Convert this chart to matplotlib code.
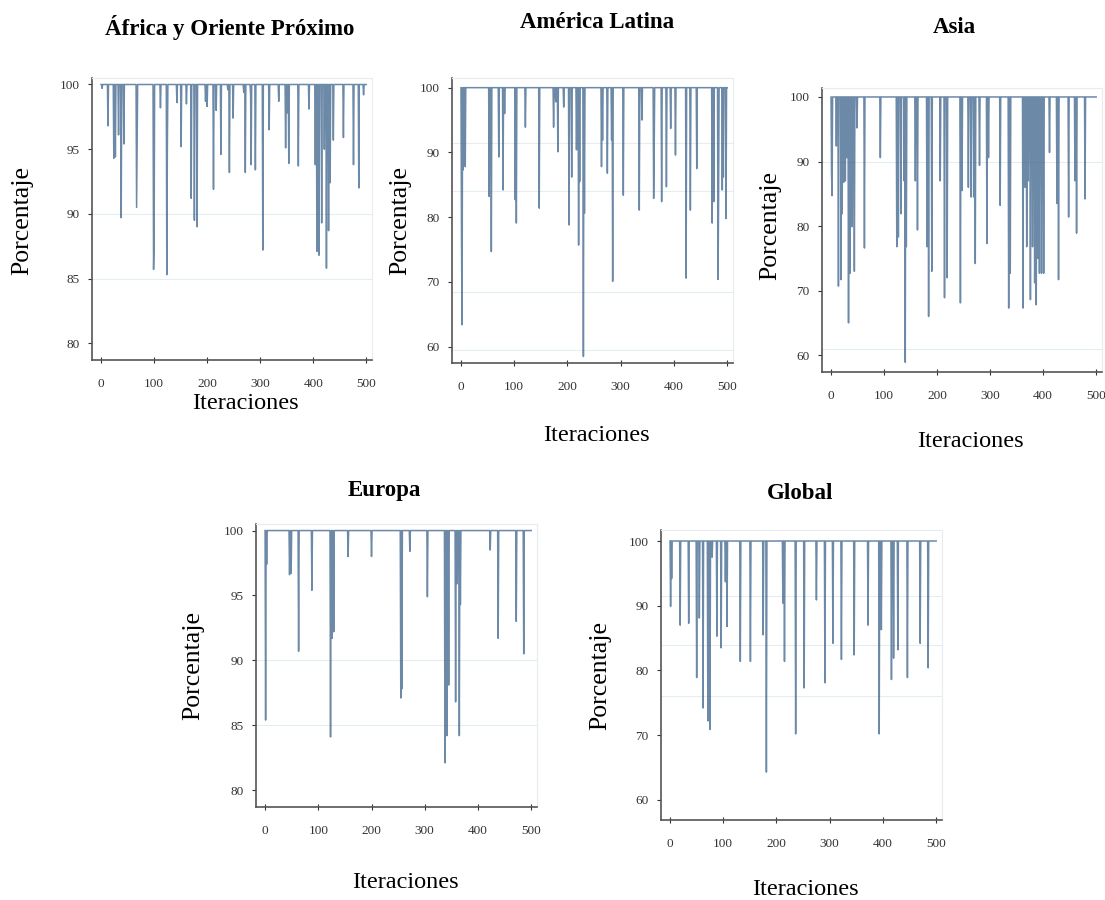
import numpy as np
import matplotlib
matplotlib.use("Agg")
import matplotlib.pyplot as plt

plt.rcParams['font.family'] = ['Liberation Serif', 'DejaVu Serif']

n_iter = 501

# dips below 100 %: (iteration, value)
af_iter = [2, 13, 24, 27, 33, 38, 43, 67, 68, 99, 100, 112, 124, 125, 143, 151, 161, 170, 176, 181,
           197, 200, 212, 217, 226, 239, 242, 249, 269, 272, 282, 283, 291, 305, 317, 335, 348, 351,
           354, 372, 392, 404, 407, 411, 416, 421, 425, 429, 432, 438, 457, 476, 486, 495]
af_val = [99.7, 96.8, 94.3, 94.4, 96.1, 89.7, 95.4, 90.5, 95.0, 85.7, 87.6, 98.2, 85.3, 95.0, 98.6,
          95.2, 98.5, 91.2, 89.5, 89.0, 98.7, 98.3, 91.9, 98.0, 94.6, 99.6, 93.2, 97.4, 99.4, 93.2,
          99.2, 93.8, 93.4, 87.2, 96.5, 98.7, 95.1, 97.8, 93.9, 93.7, 98.1, 93.8, 87.1, 86.8, 89.3,
          95.0, 85.8, 88.7, 92.4, 95.7, 95.9, 93.8, 92.0, 99.2]

la_iter = [1, 2, 4, 8, 53, 57, 71, 79, 82, 102, 104, 121, 147, 174, 178, 182, 193, 203, 208, 217,
           221, 223, 230, 232, 264, 266, 275, 283, 285, 305, 335, 340, 362, 363, 377, 386, 394, 403,
           423, 431, 443, 472, 475, 483, 484, 491, 493, 498]
la_val = [76.2, 63.4, 87.3, 87.8, 83.2, 74.7, 89.3, 84.2, 96.0, 82.7, 79.1, 93.9, 81.4, 93.9, 97.8,
          90.1, 97.0, 78.8, 86.2, 90.4, 75.7, 85.5, 58.5, 80.6, 87.8, 91.9, 86.8, 91.9, 70.1, 83.4,
          81.1, 95.0, 82.9, 90.4, 82.4, 84.7, 93.7, 89.6, 70.6, 81.1, 87.5, 79.1, 82.4, 70.4, 82.7,
          84.2, 86.2, 79.8]

as_iter = [1, 2, 10, 14, 19, 21, 24, 27, 30, 33, 36, 40, 44, 49, 63, 93, 124, 127, 132, 138, 140,
           142, 159, 163, 181, 184, 190, 206, 214, 219, 244, 247, 259, 264, 269, 272, 280, 294, 297,
           319, 335, 338, 362, 366, 369, 372, 376, 380, 384, 387, 390, 393, 397, 401, 412, 426, 429,
           448, 460, 463, 479]
as_val = [88.1, 84.7, 92.4, 70.7, 71.7, 81.9, 86.8, 87.0, 90.6, 65.0, 72.7, 79.9, 73.0, 95.2, 76.6,
          90.6, 76.8, 78.3, 81.9, 87.0, 58.9, 76.8, 87.0, 79.4, 76.8, 66.0, 73.0, 87.0, 68.9, 72.0,
          68.1, 85.5, 86.0, 84.5, 84.5, 74.2, 89.4, 77.3, 90.6, 83.2, 67.3, 72.7, 67.3, 86.0, 76.8,
          87.0, 68.6, 76.8, 71.2, 67.8, 75.0, 72.7, 72.7, 72.7, 91.4, 83.5, 71.7, 81.4, 87.0, 78.9,
          84.2]

eu_iter = [1, 3, 46, 49, 63, 88, 123, 126, 129, 156, 200, 255, 257, 272, 305, 338, 342, 345, 358,
           361, 365, 367, 423, 438, 472, 486]
eu_val = [85.4, 97.4, 96.6, 96.7, 90.7, 95.4, 84.1, 91.7, 92.2, 98.0, 98.0, 87.1, 87.8, 98.4, 94.9,
          82.1, 84.2, 88.1, 86.8, 95.9, 84.2, 94.3, 98.5, 91.7, 93.0, 90.5]

gl_iter = [1, 3, 19, 35, 50, 55, 62, 71, 75, 79, 88, 96, 104, 107, 132, 151, 175, 181, 212, 215,
           236, 252, 275, 291, 306, 322, 346, 372, 393, 397, 416, 420, 428, 446, 470, 485]
gl_val = [89.9, 94.2, 87.0, 87.3, 78.9, 88.1, 74.2, 72.2, 70.9, 97.5, 85.3, 83.5, 93.7, 86.8, 81.4,
          81.4, 85.5, 64.3, 90.4, 81.4, 70.2, 77.3, 90.9, 78.1, 84.2, 81.7, 82.4, 87.0, 70.2, 86.3,
          78.6, 81.9, 83.2, 78.9, 84.2, 80.4]

titles = ['África y Oriente Próximo', 'América Latina', 'Asia', 'Europa', 'Global']
y_ticks = [[80, 85, 90, 95, 100], [60, 70, 80, 90, 100], [60, 70, 80, 90, 100],
           [80, 85, 90, 95, 100], [60, 70, 80, 90, 100]]
x_ticks = [0, 100, 200, 300, 400, 500]


def build_series(dip_iter, dip_val):
    series = np.full(n_iter, 100.0)
    series[np.array(dip_iter)] = dip_val
    return series


panels = [
    # (data, axes rect, ylim, faint grid levels, title xy, xlabel xy, ylabel xy)
    ((af_iter, af_val), [0.0833, 0.600, 0.2534, 0.3133], (78.7, 100.5), [90, 85],
     (0.208, 0.969), (0.222, 0.552), (0.020, 0.755)),
    ((la_iter, la_val), [0.4090, 0.5967, 0.2543, 0.3167], (57.5, 101.5), [91.5, 84, 68.5, 59.5],
     (0.540, 0.975), (0.540, 0.516), (0.362, 0.755)),
    ((as_iter, as_val), [0.7439, 0.5867, 0.2534, 0.3156], (57.4, 101.4), [90, 61],
     (0.864, 0.969), (0.878, 0.509), (0.697, 0.750)),
    ((eu_iter, eu_val), [0.2317, 0.1033, 0.2543, 0.3144], (78.7, 100.5), [90, 85],
     (0.348, 0.455), (0.367, 0.019), (0.175, 0.261)),
    ((gl_iter, gl_val), [0.5982, 0.0889, 0.2543, 0.3222], (56.9, 101.7), [91.5, 84, 76],
     (0.724, 0.452), (0.729, 0.012), (0.543, 0.250)),
]

fig = plt.figure(figsize=(11.05, 9.0), dpi=100)
x = np.arange(n_iter)

for k, (data, rect, ylim, grid, t_xy, xl_xy, yl_xy) in enumerate(panels):
    ax = fig.add_axes(rect)
    y = build_series(*data)
    for g in grid:
        ax.axhline(g, color='#e4eef0', lw=0.8, zorder=0)
    ax.plot(x, y, color='#2e5782', lw=1.1, alpha=0.7)
    ax.set_xlim(-17, 511)
    ax.set_ylim(*ylim)
    ax.set_xticks(x_ticks)
    ax.set_yticks(y_ticks[k])
    ax.tick_params(axis='x', direction='inout', length=4, width=0.8, pad=11,
                   labelsize=9.5, colors='#333333')
    ax.tick_params(axis='y', direction='out', length=3, width=0.8, pad=6,
                   labelsize=9.5, colors='#333333')
    for side in ['top', 'right']:
        ax.spines[side].set_color('#e6ecef')
        ax.spines[side].set_linewidth(0.8)
    for side in ['left', 'bottom']:
        ax.spines[side].set_color('#555555')
        ax.spines[side].set_linewidth(1.2)

    fig.text(t_xy[0], t_xy[1], titles[k], ha='center', va='center',
             fontsize=16.5, fontweight='bold')
    fig.text(xl_xy[0], xl_xy[1], 'Iteraciones', ha='center', va='center', fontsize=17.5)
    fig.text(yl_xy[0], yl_xy[1], 'Porcentaje', ha='center', va='center', fontsize=18.5,
             rotation=90)

fig.savefig('out.png', dpi=100)
